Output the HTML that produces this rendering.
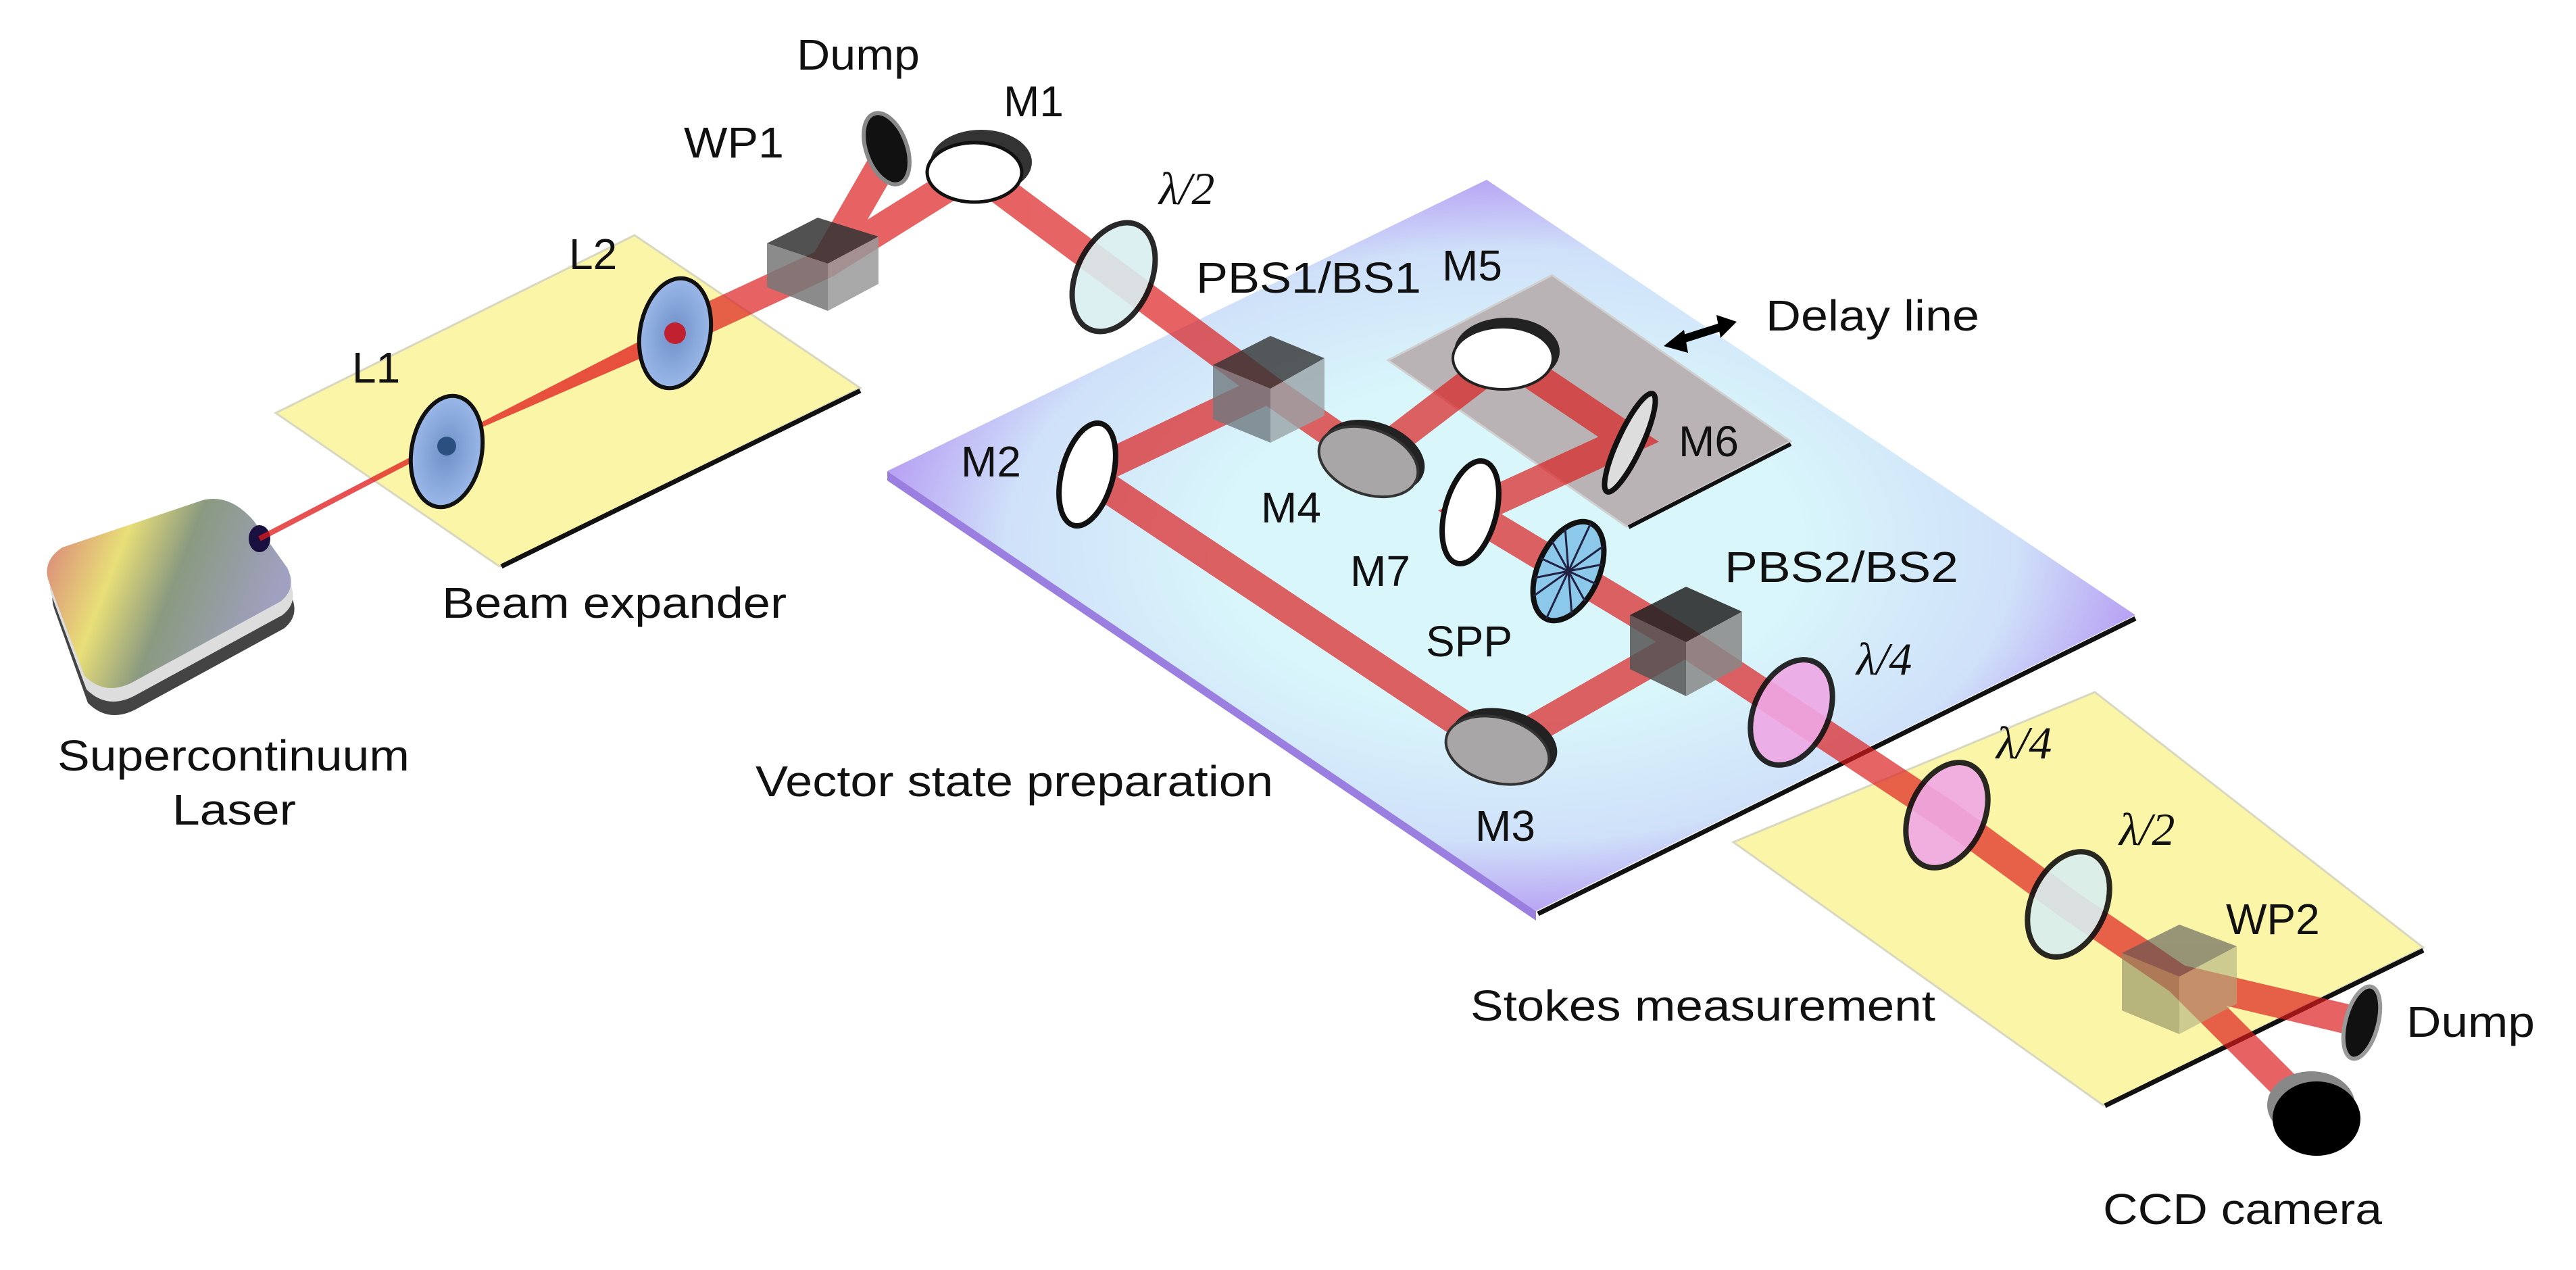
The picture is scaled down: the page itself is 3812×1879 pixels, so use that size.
<!DOCTYPE html>
<html><head><meta charset="utf-8"><style>
html,body{margin:0;padding:0;background:#fff;}
svg{display:block;}
text{font-family:"Liberation Sans",sans-serif;font-size:64px;fill:#111;}
.lam{font-family:"Liberation Serif",serif;font-style:italic;font-size:68px;}
</style></head><body>
<svg width="3812" height="1879" viewBox="0 0 3812 1879" xmlns="http://www.w3.org/2000/svg">
<defs>
<radialGradient id="pg" cx="0.5" cy="0.5" r="0.58">
<stop offset="0.4" stop-color="#d9f6fb"/><stop offset="0.7" stop-color="#cfe0f9"/><stop offset="0.9" stop-color="#b498f3"/><stop offset="1" stop-color="#9f6ff0"/>
</radialGradient>
<linearGradient id="lg" x1="0" y1="0" x2="1" y2="0.3">
<stop offset="0" stop-color="#d8787a"/><stop offset="0.35" stop-color="#e8df78"/><stop offset="0.6" stop-color="#8a9a80"/><stop offset="1" stop-color="#a0a0c0"/>
</linearGradient>
<radialGradient id="lens" cx="0.5" cy="0.5" r="0.5"><stop offset="0" stop-color="#6f8fc8"/><stop offset="1" stop-color="#9ab8e8"/></radialGradient>
</defs>

<polygon points="408,611 939,348 1273,574 739,838" fill="#fbf5a8" stroke="#d8d8c0" stroke-width="3"/>
<line x1="742" y1="838" x2="1273" y2="578" stroke="#111" stroke-width="7"/>

<polygon points="1313,697 2200,266 3160,910 2273,1348" fill="url(#pg)"/>
<polygon points="1313,697 2273,1348 2273,1362 1313,711" fill="#9b7fe0"/>
<line x1="2276" y1="1352" x2="3160" y2="915" stroke="#111" stroke-width="7"/>

<polygon points="2054,533 2297,407 2650,653 2407,779" fill="#b9b3b5" stroke="#d0d0d0" stroke-width="3"/>
<line x1="2410" y1="780" x2="2650" y2="657" stroke="#111" stroke-width="6"/>

<polygon points="2565,1246 3100,1024 3586,1402 3112,1635" fill="#fbf5a8" stroke="#d8d8c0" stroke-width="3"/>
<line x1="3115" y1="1636" x2="3586" y2="1406" stroke="#111" stroke-width="7"/>

<g>
<path d="M80,900 Q70,870 100,850 L300,780 Q340,770 380,810 L430,880 Q445,910 420,930 L200,1050 Q160,1070 130,1040 Z" fill="#444"/>
<path d="M76,880 Q66,850 96,830 L300,760 Q340,750 378,790 L428,860 Q443,890 418,910 L198,1030 Q158,1050 128,1020 Z" fill="#ddd"/>
<path d="M72,860 Q62,830 92,810 L300,740 Q340,730 375,770 L425,840 Q440,870 415,890 L195,1010 Q155,1030 125,1000 Z" fill="url(#lg)"/>
<ellipse cx="384" cy="797" rx="16" ry="20" fill="#1a1040"/>
</g>

<line x1="384" y1="797" x2="661" y2="653" stroke="#e01818" stroke-width="8" opacity="0.75"/>
<polygon points="661,651 999,478 999,508 661,655" fill="#e01818" opacity="0.75"/>
<g stroke="#dc1a1a" stroke-width="44" fill="none" opacity="0.68" stroke-linejoin="miter">
<polyline points="999,493 1221,390 1309,237"/>
<polyline points="1221,390 1442,252 1876,575 2027,680 2227,527 2410,650 2175,758 2494,950 2651,1054 2881,1206 3061,1338 3224,1449 3495,1513"/>
<line x1="3224" y1="1449" x2="3425" y2="1650"/>
<polyline points="1876,575 1609,702 2218,1108 2494,950"/>
</g>

<ellipse cx="661" cy="668" rx="52" ry="83" fill="url(#lens)" stroke="#111" stroke-width="6" transform="rotate(10 661 668)"/>
<circle cx="661" cy="660" r="14" fill="#2a5080"/>
<ellipse cx="999" cy="493" rx="52" ry="82" fill="url(#lens)" stroke="#111" stroke-width="6" transform="rotate(10 999 493)"/>
<circle cx="999" cy="493" r="16" fill="#c02030"/>

<g opacity="0.85">
<polygon points="1135,360 1210,322 1300,350 1225,390" fill="#333"/>
<polygon points="1135,360 1225,390 1225,460 1135,425" fill="#777"/>
<polygon points="1225,390 1300,350 1300,420 1225,460" fill="#999"/>
</g>
<ellipse cx="1312" cy="220" rx="30" ry="55" fill="#111" stroke="#888" stroke-width="6" transform="rotate(-20 1312 220)"/>
<ellipse cx="1452" cy="240" rx="75" ry="48" fill="#333"/>
<ellipse cx="1442" cy="255" rx="70" ry="44" fill="#fff" stroke="#111" stroke-width="5"/>
<ellipse cx="1648" cy="410" rx="55" ry="85" fill="#d9eef0" stroke="#111" stroke-width="8" opacity="0.9" transform="rotate(25 1648 410)"/>

<g opacity="0.8">
<polygon points="1795,540 1880,497 1960,530 1880,575" fill="#333"/>
<polygon points="1795,540 1880,575 1880,655 1795,620" fill="#6f7a80"/>
<polygon points="1880,575 1960,530 1960,615 1880,655" fill="#9aa4a8"/>
</g>
<ellipse cx="1609" cy="702" rx="38" ry="78" fill="#fff" stroke="#111" stroke-width="8" transform="rotate(15 1609 702)"/>
<ellipse cx="2033" cy="675" rx="78" ry="50" fill="#222" transform="rotate(20 2033 675)"/>
<ellipse cx="2025" cy="683" rx="76" ry="48" fill="#a9a6a8" stroke="#333" stroke-width="4" transform="rotate(20 2025 683)"/>
<ellipse cx="2230" cy="520" rx="78" ry="50" fill="#222"/>
<ellipse cx="2224" cy="530" rx="74" ry="46" fill="#fff" stroke="#222" stroke-width="4"/>
<ellipse cx="2412" cy="655" rx="18" ry="80" fill="#ddd" stroke="#111" stroke-width="8" transform="rotate(25 2412 655)"/>
<ellipse cx="2176" cy="758" rx="38" ry="78" fill="#fff" stroke="#111" stroke-width="8" transform="rotate(15 2176 758)"/>
<g transform="rotate(25 2321 845)">
<ellipse cx="2321" cy="845" rx="45" ry="78" fill="#8cc8ea" stroke="#111" stroke-width="8"/>
<g stroke="#224" stroke-width="3">
<line x1="2321" y1="767" x2="2321" y2="923"/><line x1="2276" y1="845" x2="2366" y2="845"/>
<line x1="2290" y1="790" x2="2352" y2="900"/><line x1="2352" y1="790" x2="2290" y2="900"/>
<line x1="2280" y1="815" x2="2362" y2="875"/><line x1="2362" y1="815" x2="2280" y2="875"/>
</g></g>
<g opacity="0.85">
<polygon points="2412,910 2495,868 2578,905 2495,950" fill="#222"/>
<polygon points="2412,910 2495,950 2495,1030 2412,990" fill="#555"/>
<polygon points="2495,950 2578,905 2578,985 2495,1030" fill="#888"/>
</g>
<ellipse cx="2226" cy="1100" rx="80" ry="50" fill="#222" transform="rotate(15 2226 1100)"/>
<ellipse cx="2216" cy="1110" rx="78" ry="48" fill="#a9a6a8" stroke="#333" stroke-width="4" transform="rotate(15 2216 1110)"/>
<ellipse cx="2651" cy="1054" rx="55" ry="82" fill="#efa8e4" stroke="#111" stroke-width="8" opacity="0.9" transform="rotate(25 2651 1054)"/>
<ellipse cx="2881" cy="1206" rx="55" ry="82" fill="#efa8e4" stroke="#111" stroke-width="8" opacity="0.9" transform="rotate(25 2881 1206)"/>
<ellipse cx="3061" cy="1338" rx="55" ry="82" fill="#d9eef0" stroke="#111" stroke-width="8" opacity="0.9" transform="rotate(25 3061 1338)"/>
<g opacity="0.6">
<polygon points="3140,1410 3225,1368 3310,1400 3225,1445" fill="#555"/>
<polygon points="3140,1410 3225,1445 3225,1530 3140,1495" fill="#8a8a60"/>
<polygon points="3225,1445 3310,1400 3310,1485 3225,1530" fill="#b0b080"/>
</g>
<ellipse cx="3495" cy="1513" rx="24" ry="55" fill="#111" stroke="#999" stroke-width="6" transform="rotate(15 3495 1513)"/>
<ellipse cx="3420" cy="1635" rx="65" ry="50" fill="#888"/>
<ellipse cx="3428" cy="1655" rx="65" ry="55" fill="#000"/>

<g stroke="#000" stroke-width="12" fill="#000">
<line x1="2480" y1="505" x2="2552" y2="482"/>
<polygon points="2462,512 2492,488 2498,522" stroke="none"/>
<polygon points="2570,476 2540,466 2546,500" stroke="none"/>
</g>

<text x="1179" y="103" textLength="182" lengthAdjust="spacingAndGlyphs">Dump</text>
<text x="1485" y="172">M1</text>
<text x="1012" y="233" textLength="148" lengthAdjust="spacingAndGlyphs">WP1</text>
<text x="842" y="398">L2</text>
<text x="521" y="566">L1</text>
<text class="lam" x="1715" y="302">λ/2</text>
<text x="654" y="914" textLength="510" lengthAdjust="spacingAndGlyphs">Beam expander</text>
<text x="85" y="1140" textLength="521" lengthAdjust="spacingAndGlyphs">Supercontinuum</text>
<text x="255" y="1220" textLength="183" lengthAdjust="spacingAndGlyphs">Laser</text>
<text x="1118" y="1178" textLength="766" lengthAdjust="spacingAndGlyphs">Vector state preparation</text>
<text x="1422" y="705">M2</text>
<text x="1770" y="433" textLength="333" lengthAdjust="spacingAndGlyphs">PBS1/BS1</text>
<text x="2134" y="415">M5</text>
<text x="2613" y="489" textLength="316" lengthAdjust="spacingAndGlyphs">Delay line</text>
<text x="2484" y="675">M6</text>
<text x="1866" y="773">M4</text>
<text x="1998" y="867">M7</text>
<text x="2552" y="861" textLength="346" lengthAdjust="spacingAndGlyphs">PBS2/BS2</text>
<text x="2110" y="971">SPP</text>
<text class="lam" x="2747" y="998">λ/4</text>
<text x="2183" y="1244">M3</text>
<text class="lam" x="2954" y="1122">λ/4</text>
<text class="lam" x="3136" y="1250">λ/2</text>
<text x="3294" y="1382">WP2</text>
<text x="2176" y="1510" textLength="688" lengthAdjust="spacingAndGlyphs">Stokes measurement</text>
<text x="3561" y="1534" textLength="190" lengthAdjust="spacingAndGlyphs">Dump</text>
<text x="3112" y="1811" textLength="413" lengthAdjust="spacingAndGlyphs">CCD camera</text>
</svg>
</body></html>
